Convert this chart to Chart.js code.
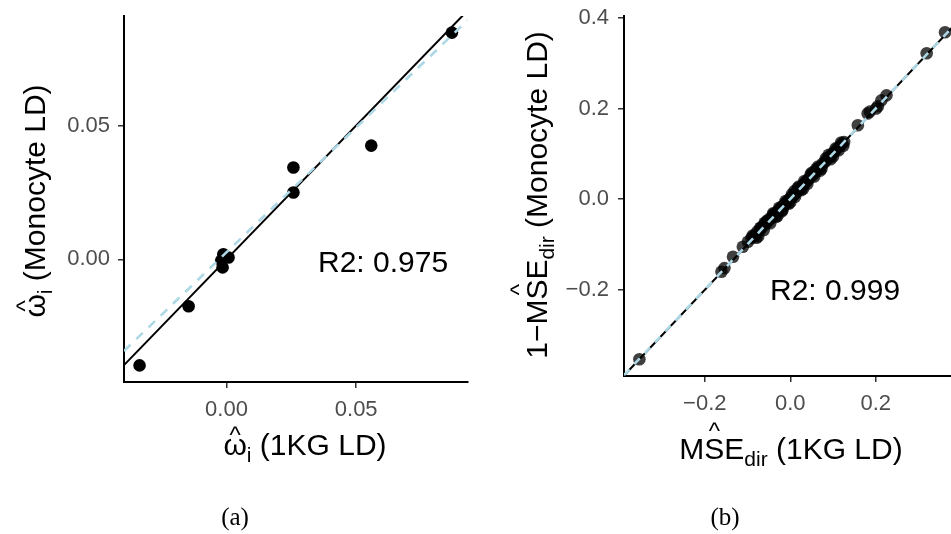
<!DOCTYPE html>
<html><head><meta charset="utf-8">
<script src="https://cdn.jsdelivr.net/npm/chart.js@4.4.0/dist/chart.umd.min.js"></script>
<style>
html,body{margin:0;padding:0;background:#fff;overflow:hidden;width:951px;height:534px;}
canvas{position:absolute;top:0;}
#ca{left:0;}
#cb{left:470px;}
</style></head><body>
<canvas id="ca" width="470" height="534"></canvas>
<canvas id="cb" width="500" height="534"></canvas>
<script>
// ---------- Panel (a): omega_i, 1KG LD vs Monocyte LD ----------
const xA = [-0.0335, -0.0146, -0.0012, 0.0008, -0.0015, -0.0020, 0.0258, 0.0258, 0.0558, 0.0869];
const yA = [-0.0396, -0.0175, 0.0019, 0.0007, -0.0030, -0.0004, 0.0343, 0.0250, 0.0425, 0.0847];
const rangeXA = [-0.0395, 0.0929];
const rangeYA = [-0.0458, 0.0909];
const xTickValsA = [0, 0.05];
const xTickLabelsA = ['0.00', '0.05'];
const yTickValsA = [0, 0.05];
const yTickLabelsA = ['0.00', '0.05'];
const idLineAx = [-0.0395, 0.0929];
const idLineAy = [-0.0395, 0.0929];
const fitLineAx = [-0.0395, 0.0929];
const fitLineAy = [-0.0342, 0.0893];
const r2A = 'R2: 0.975';

// ---------- Panel (b): MSE_dir ----------
const xB = [-0.353, -0.161, -0.154, -0.134, -0.111, -0.099, -0.091, -0.086, -0.081, -0.077, -0.072, -0.068, -0.064, -0.060,
  -0.056, -0.052, -0.048, -0.045, -0.041, -0.038, -0.035, -0.031, -0.028, -0.025, -0.022, -0.019, -0.016, -0.013, -0.010,
  -0.008, -0.005, -0.002, 0.000, 0.003, 0.006, 0.009, 0.012, 0.015, 0.018, 0.021, 0.024, 0.028, 0.031, 0.035, 0.038, 0.042,
  0.046, 0.050, 0.054, 0.058, 0.062, 0.067, 0.071, 0.076, 0.081, 0.086, 0.092, 0.097, 0.103, 0.109, 0.116, 0.121, 0.126,
  -0.040, -0.020, 0.010, 0.030, 0.050, 0.070, -0.060, 0.000, 0.020, -0.030, 0.090, 0.100, -0.075, 0.060,
  -0.088, -0.079, -0.070, -0.062, -0.054, -0.047, -0.039, -0.033, -0.026, -0.018, -0.011, -0.004, 0.004, 0.011,
  0.017, 0.026, 0.033, 0.040, 0.048, 0.056, 0.065, 0.073, 0.083, 0.094, 0.106, 0.113, 0.119, 0.124,
  0.158, 0.181, 0.186, 0.201, 0.205, 0.213, 0.225, 0.319, 0.362];
const yB = [-0.353, -0.160, -0.152, -0.127, -0.105, -0.094, -0.086, -0.082, -0.078, -0.071, -0.069, -0.063, -0.060, -0.055,
  -0.053, -0.047, -0.045, -0.041, -0.038, -0.034, -0.033, -0.028, -0.026, -0.022, -0.020, -0.016, -0.015, -0.011, -0.009,
  -0.006, -0.004, 0.000, 0.002, 0.004, 0.007, 0.011, 0.013, 0.017, 0.019, 0.023, 0.025, 0.030, 0.032, 0.037, 0.039, 0.044,
  0.047, 0.052, 0.055, 0.060, 0.063, 0.069, 0.072, 0.078, 0.082, 0.088, 0.093, 0.099, 0.104, 0.111, 0.117, 0.122, 0.126,
  -0.031, -0.027, 0.018, 0.023, 0.058, 0.063, -0.052, -0.007, 0.028, -0.037, 0.098, 0.094, -0.082, 0.066,
  -0.080, -0.085, -0.063, -0.068, -0.047, -0.053, -0.033, -0.039, -0.019, -0.024, -0.004, -0.010, 0.011, 0.005,
  0.024, 0.020, 0.040, 0.034, 0.055, 0.050, 0.072, 0.067, 0.090, 0.088, 0.112, 0.108, 0.125, 0.118,
  0.163, 0.189, 0.193, 0.200, 0.205, 0.218, 0.229, 0.322, 0.368];
const rangeXB = [-0.389, 0.404];
const rangeYB = [-0.390, 0.404];
const xTickValsB = [-0.2, 0, 0.2];
const xTickLabelsB = ['\u22120.2', '0.0', '0.2'];
const yTickValsB = [-0.2, 0, 0.2, 0.4];
const yTickLabelsB = ['\u22120.2', '0.0', '0.2', '0.4'];
const idLineBx = [-0.389, 0.404];
const idLineBy = [-0.389, 0.404];
const fitLineBx = [-0.389, 0.404];
const fitLineBy = [-0.388, 0.404];
const r2B = 'R2: 0.999';

const FAM = '"Liberation Sans", Arial, sans-serif';
const TICK_FONT = {family: FAM, size: 22};

function pts(xs, ys) { return xs.map((x, i) => ({x: x, y: ys[i]})); }

function drawMath(ctx, parts, cx, cy, rot) {
  ctx.save();
  ctx.translate(cx, cy);
  if (rot) ctx.rotate(rot);
  ctx.textBaseline = 'alphabetic';
  ctx.textAlign = 'left';
  ctx.fillStyle = '#000';
  let total = 0;
  const widths = parts.map(p => { ctx.font = p.size + 'px ' + FAM; const w = ctx.measureText(p.t).width; total += w; return w; });
  let x = -total / 2;
  parts.forEach((p, i) => {
    ctx.font = p.size + 'px ' + FAM;
    ctx.fillText(p.t, x, p.dy || 0);
    if (p.hat) {
      const hs = 24;
      ctx.font = hs + 'px ' + FAM;
      const hw = ctx.measureText('^').width;
      const top = -(p.cap ? 0.716 : 0.52) * p.size;
      const hb = top - (p.cap ? 6 : 4) + 0.33 * hs;
      ctx.fillText('^', x + widths[i] / 2 - hw / 2, hb);
    }
    x += widths[i];
  });
  ctx.restore();
}

function makeChart(id, cfg) {
  const labelsPlugin = {
    id: 'labels' + id,
    afterDraw(chart) {
      const ctx = chart.ctx;
      drawMath(ctx, cfg.yTitle, cfg.yTitlePos[0], cfg.yTitlePos[1], -Math.PI / 2);
      drawMath(ctx, cfg.xTitle, cfg.xTitlePos[0], cfg.xTitlePos[1], 0);
      ctx.save();
      ctx.fillStyle = '#000';
      ctx.font = '30px ' + FAM;
      ctx.textBaseline = 'alphabetic';
      ctx.textAlign = 'left';
      ctx.fillText(cfg.r2, cfg.r2Pos[0], cfg.r2Pos[1]);
      ctx.restore();
      ctx.save();
      ctx.fillStyle = '#000';
      ctx.font = '25px "Liberation Serif", "Times New Roman", serif';
      ctx.textAlign = 'center';
      ctx.textBaseline = 'alphabetic';
      ctx.fillText(cfg.caption, cfg.captionPos[0], cfg.captionPos[1]);
      ctx.restore();
    }
  };
  const axisCommon = (min, max, vals, labels, fitFn, pad) => ({
    type: 'linear', min: min, max: max,
    afterBuildTicks: s => { s.ticks = vals.map(v => ({value: v})); },
    afterFit: fitFn,
    ticks: {callback: (v, i) => labels[i], font: TICK_FONT, color: '#4d4d4d', padding: pad, maxRotation: 0, autoSkip: false},
    grid: {display: true, drawOnChartArea: false, drawTicks: true, tickLength: 6, color: '#333', lineWidth: 1.5},
    border: {display: true, color: '#000', width: 2}
  });
  const zeroPad = s => { s.paddingTop = 0; s.paddingBottom = 0; s.paddingLeft = 0; s.paddingRight = 0; };
  return new Chart(document.getElementById(id), {
    type: 'scatter',
    data: {
      datasets: [
        {data: pts(cfg.fitX, cfg.fitY), showLine: true, pointRadius: 0, borderColor: '#ADD8E6', borderWidth: 2.6, borderDash: cfg.dash, order: 0},
        {data: pts(cfg.idX, cfg.idY), showLine: true, pointRadius: 0, borderColor: '#000', borderWidth: 2, order: 1},
        {data: pts(cfg.xs, cfg.ys), pointRadius: 6.3, pointBackgroundColor: cfg.ptColor, pointBorderWidth: 0, borderWidth: 0, order: 2}
      ]
    },
    options: {
      responsive: false, animation: false, devicePixelRatio: 1,
      layout: {padding: cfg.padding, autoPadding: false},
      plugins: {legend: {display: false}, tooltip: {enabled: false}, title: {display: false}},
      scales: {
        x: axisCommon(cfg.rx[0], cfg.rx[1], cfg.xTickVals, cfg.xTickLabels, s => { s.height = cfg.xAxisH; zeroPad(s); }, cfg.xPad),
        y: axisCommon(cfg.ry[0], cfg.ry[1], cfg.yTickVals, cfg.yTickLabels, s => { s.width = cfg.yAxisW; zeroPad(s); }, cfg.yPad)
      }
    },
    plugins: [labelsPlugin]
  });
}

makeChart('ca', {
  xs: xA, ys: yA, ptColor: '#000', rx: rangeXA, ry: rangeYA,
  xTickVals: xTickValsA, xTickLabels: xTickLabelsA, yTickVals: yTickValsA, yTickLabels: yTickLabelsA,
  idX: idLineAx, idY: idLineAy, fitX: fitLineAx, fitY: fitLineAy, dash: [9, 8],
  padding: {left: 0, top: 16, right: 2.5, bottom: 0}, yAxisW: 124, xAxisH: 152, xPad: 9, yPad: 8,
  yTitle: [{t: '\u03c9', size: 30, hat: true}, {t: 'i', size: 21, dy: 7}, {t: ' (Monocyte LD)', size: 30}],
  yTitlePos: [45, 201],
  xTitle: [{t: '\u03c9', size: 30, hat: true}, {t: 'i', size: 21, dy: 7}, {t: ' (1KG LD)', size: 30}],
  xTitlePos: [305, 455],
  r2: r2A, r2Pos: [318, 272],
  caption: '(a)', captionPos: [235, 525]
});

makeChart('cb', {
  xs: xB, ys: yB, ptColor: 'rgba(0,0,0,0.75)', rx: rangeXB, ry: rangeYB,
  xTickVals: xTickValsB, xTickLabels: xTickLabelsB, yTickVals: yTickValsB, yTickLabels: yTickLabelsB,
  idX: idLineBx, idY: idLineBy, fitX: fitLineBx, fitY: fitLineBy, dash: [8, 7],
  padding: {left: 0, top: 16, right: 7, bottom: 0}, yAxisW: 154, xAxisH: 158, xPad: 9, yPad: 9,
  yTitle: [{t: '1\u2212M', size: 30}, {t: 'S', size: 30, hat: true, cap: true}, {t: 'E', size: 30}, {t: 'dir', size: 21, dy: 7}, {t: ' (Monocyte LD)', size: 30}],
  yTitlePos: [77, 195],
  xTitle: [{t: 'M', size: 30}, {t: 'S', size: 30, hat: true, cap: true}, {t: 'E', size: 30}, {t: 'dir', size: 21, dy: 7}, {t: ' (1KG LD)', size: 30}],
  xTitlePos: [321, 459],
  r2: r2B, r2Pos: [300, 300],
  caption: '(b)', captionPos: [255, 525]
});
</script>
</body></html>
